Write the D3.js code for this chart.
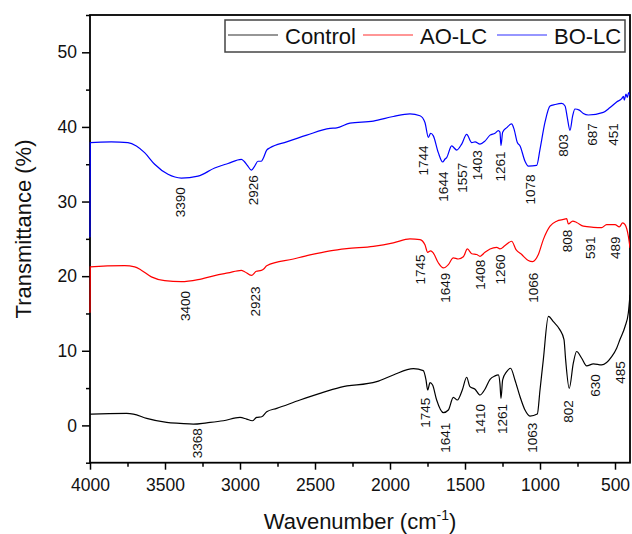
<!DOCTYPE html>
<html>
<head>
<meta charset="utf-8">
<script src="https://cdn.jsdelivr.net/npm/d3@7"></script>
<style>
  body { margin: 0; background: #fff; }
  svg { display: block; font-family: "Liberation Sans", Arial, sans-serif; }
</style>
</head>
<body>
<div id="chart"></div>
<script>
// series names
const seriesNames = ['Control', 'AO-LC', 'BO-LC'];

// spectra: [wavenumber, transmittance %]
const controlPts = [[4000,1.5],[3989,1.52],[3756,1.6],[3711,1.52],[3622,0.94],[3489,0.4],[3400,0.27],[3311,0.17],[3222,0.35],[3111,0.62],[3000,1.07],[2956,0.85],[2918,0.62],[2889,1.07],[2855,1.16],[2822,1.83],[2755,2.28],[2600,3.4],[2467,4.3],[2333,5.1],[2089,5.86],[1978,6.76],[1844,7.6],[1778,7.34],[1760,6.09],[1749,4.74],[1733,5.73],[1716,5.42],[1689,3.4],[1644,1.7],[1611,2.06],[1578,3.76],[1551,3.4],[1518,4.74],[1489,6.45],[1467,5.19],[1433,4.84],[1400,4.07],[1367,4.84],[1333,6.18],[1300,6.63],[1278,6.76],[1267,5.6],[1260,3.63],[1249,6.09],[1222,7.2],[1196,7.66],[1167,6.09],[1133,3.84],[1100,2.06],[1067,1.25],[1018,1.52],[1000,4.74],[978,8.78],[944,14.6],[911,13.9],[867,12.8],[840,11.5],[829,8.78],[805,4.97],[778,8.33],[756,9.9],[722,9.0],[689,7.97],[644,8.24],[589,8.1],[522,9.22],[489,10.35],[467,11.5],[433,13.25],[411,15.1],[400,17.5]];

const aoPts = [[4000,15.1],[3998,21.24],[3769,21.4],[3702,21.24],[3658,20.8],[3591,19.9],[3502,19.4],[3391,19.26],[3280,19.53],[3169,20.07],[3080,20.43],[2991,20.78],[2969,20.6],[2924,20.1],[2891,20.65],[2858,20.78],[2840,21.0],[2822,21.4],[2644,22.3],[2533,22.85],[2400,23.4],[2289,23.7],[2111,24.0],[1978,24.46],[1867,25.0],[1800,24.9],[1767,24.2],[1749,23.2],[1729,23.4],[1711,23.1],[1678,21.8],[1644,21.1],[1611,21.55],[1578,22.45],[1545,22.3],[1511,22.6],[1484,23.65],[1455,23.0],[1422,22.9],[1400,22.66],[1367,23.2],[1333,23.65],[1289,23.87],[1267,23.65],[1233,24.1],[1189,24.68],[1160,23.56],[1122,22.9],[1078,22.1],[1049,21.95],[1011,22.9],[978,24.9],[933,26.7],[889,27.37],[844,27.6],[822,27.7],[811,27.0],[782,27.37],[756,27.2],[711,26.7],[644,26.55],[589,26.5],[556,26.9],[500,26.9],[471,26.6],[449,27.15],[433,26.9],[411,25.35],[400,23.8]];

const boPts = [[4000,25.2],[3998,37.9],[3858,38.0],[3747,37.9],[3691,37.45],[3636,36.55],[3569,35.0],[3480,33.65],[3391,33.15],[3280,33.4],[3169,34.5],[3080,35.1],[2991,35.65],[2973,35.4],[2951,34.85],[2924,34.2],[2902,34.75],[2880,35.4],[2858,35.4],[2845,35.8],[2822,36.9],[2800,37.2],[2689,38.0],[2555,38.9],[2400,39.8],[2355,39.87],[2267,40.5],[2111,40.77],[1978,41.4],[1867,41.75],[1800,41.5],[1767,40.6],[1744,38.6],[1729,39.15],[1711,38.8],[1678,36.55],[1649,35.3],[1633,35.7],[1622,35.9],[1589,37.45],[1555,36.9],[1522,37.7],[1489,39.0],[1455,37.9],[1433,38.0],[1400,37.7],[1367,38.1],[1333,38.9],[1300,39.15],[1278,39.5],[1267,39.3],[1260,37.5],[1249,39.3],[1222,39.9],[1189,40.4],[1173,39.7],[1151,37.9],[1133,37.45],[1100,35.4],[1078,34.75],[1022,34.85],[1000,37.0],[967,40.6],[933,42.8],[900,43.0],[855,43.15],[833,42.8],[818,41.25],[800,39.55],[782,41.5],[767,42.4],[738,42.25],[711,41.8],[678,41.6],[578,41.95],[533,42.6],[489,43.35],[455,43.8],[444,44.1],[438,43.6],[427,44.4],[418,43.95],[409,44.6],[400,44.2]];

// peak labels: [text, wavenumber, transmittance] where the label sits
const controlPeaks = [['3368',3289,-2.4],['1745',1767,1.7],['1641',1633,-1.65],['1410',1400,0.85],['1261',1255,0.85],['1063',1055,-1.65],['802',811,1.85],['630',633,5.35],['485',467,7.1]];
const aoPeaks = [['3400',3367,16.0],['2923',2900,16.6],['1745',1800,20.9],['1649',1633,18.45],['1408',1400,20.2],['1260',1267,20.9],['1066',1045,18.45],['808',822,24.7],['591',667,23.8],['489',500,23.8]];
const boPeaks = [['3390',3400,29.9],['2926',2911,31.5],['1744',1778,35.5],['1644',1645,32.0],['1557',1522,33.2],['1403',1422,34.85],['1261',1267,34.7],['1078',1067,31.6],['803',845,37.5],['687',655,39.0],['451',511,39.0]];

const xTicks = [4000, 3500, 3000, 2500, 2000, 1500, 1000, 500];
const yTicks = [0, 10, 20, 30, 40, 50];

const W = 632, H = 534;
const mLeft = 90, mRight = 630, mTop = 15, mBottom = 462.7;

const svg = d3.select('#chart').append('svg')
  .attr('width', W).attr('height', H);

const x = d3.scaleLinear().domain([4000, 400]).range([mLeft, mRight]);
const y = d3.scaleLinear().domain([-5, 55]).range([mBottom, mTop]);

const colors = ['#000000', '#ff0000', '#0000ff'];
const series = [controlPts, aoPts, boPts];
const peaks = [controlPeaks, aoPeaks, boPeaks];

svg.append('defs').append('clipPath').attr('id', 'clip')
  .append('rect').attr('x', mLeft - 1).attr('y', mTop)
  .attr('width', mRight - mLeft + 1).attr('height', mBottom - mTop);

// axes
const minorX = d3.range(3750, 400, -500);
const minorY = d3.range(-5, 56, 10);

svg.append('g').attr('transform', `translate(0,${mBottom})`)
  .call(d3.axisBottom(x).tickValues(xTicks).tickSize(7).tickPadding(9).tickFormat(d3.format('d')));
svg.append('g').attr('transform', `translate(0,${mBottom})`)
  .call(d3.axisBottom(x).tickValues(minorX).tickSize(4).tickFormat(''));

svg.append('g').attr('transform', `translate(${mLeft},0)`)
  .call(d3.axisLeft(y).tickValues(yTicks).tickSize(8).tickPadding(5));
svg.append('g').attr('transform', `translate(${mLeft},0)`)
  .call(d3.axisLeft(y).tickValues(minorY).tickSize(4).tickFormat(''));

svg.selectAll('.domain').remove();
svg.selectAll('.tick line').attr('stroke', '#000').attr('stroke-width', 1.5);
svg.selectAll('.tick text').attr('font-size', '17.5px').attr('fill', '#111')
  .attr('font-family', '"Liberation Sans", Arial, sans-serif');

// frame
svg.append('rect')
  .attr('x', mLeft).attr('y', mTop)
  .attr('width', mRight - mLeft).attr('height', mBottom - mTop)
  .attr('fill', 'none').attr('stroke', '#000').attr('stroke-width', 1.8);

// spectra drawn over the frame, as in the original
const line = d3.line()
  .x(d => x(d[0]))
  .y(d => y(d[1]))
  .curve(d3.curveMonotoneX);

const plot = svg.append('g').attr('clip-path', 'url(#clip)');
series.forEach((s, i) => {
  plot.append('path')
    .datum(s)
    .attr('d', line)
    .attr('fill', 'none')
    .attr('stroke', colors[i])
    .attr('stroke-width', 1.2);
});

// peak annotations (rotated)
peaks.forEach(p => {
  svg.append('g').selectAll('text')
    .data(p)
    .enter()
    .append('text')
    .attr('transform', d => `translate(${x(d[1])},${y(d[2])}) rotate(-90)`)
    .attr('text-anchor', 'middle')
    .attr('dy', '0.36em')
    .attr('font-size', '13.5px')
    .attr('fill', '#111')
    .text(d => d[0]);
});

// axis titles
svg.append('text')
  .attr('transform', 'translate(23,229) rotate(-90)')
  .attr('text-anchor', 'middle')
  .attr('dy', '0.36em')
  .attr('font-size', '22px')
  .attr('fill', '#111')
  .text('Transmittance (%)');

const xt = svg.append('text')
  .attr('x', (mLeft + mRight) / 2).attr('y', 529)
  .attr('text-anchor', 'middle')
  .attr('font-size', '22px')
  .attr('fill', '#111');
xt.append('tspan').text('Wavenumber (cm');
xt.append('tspan').attr('font-size', '14px').attr('dy', '-9').text('-1');
xt.append('tspan').attr('dy', '9').text(')');

// legend
const lg = svg.append('g');
lg.append('rect')
  .attr('x', 225).attr('y', 20).attr('width', 400).attr('height', 32)
  .attr('fill', '#fff').attr('stroke', '#444').attr('stroke-width', 1.5);
const legendX = [228, 363, 497];
seriesNames.forEach((name, i) => {
  lg.append('line')
    .attr('x1', legendX[i]).attr('x2', legendX[i] + 50)
    .attr('y1', 35).attr('y2', 35)
    .attr('stroke', colors[i]).attr('stroke-opacity', 0.55).attr('stroke-width', 1.3);
  lg.append('text')
    .attr('x', legendX[i] + 57).attr('y', 44)
    .attr('font-size', '22px').attr('fill', '#111')
    .text(name);
});
</script>
</body>
</html>
